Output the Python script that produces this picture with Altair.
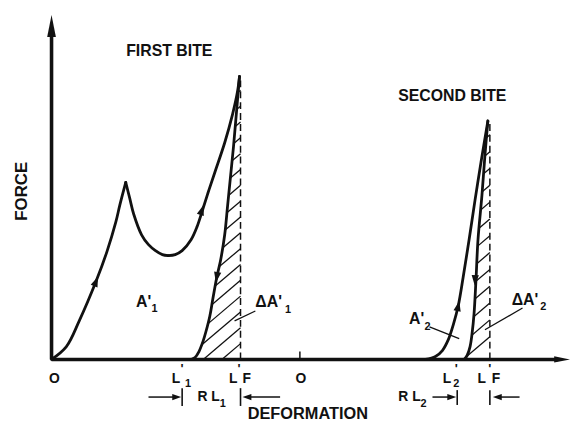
import altair as alt
import numpy as np
import pandas as pd

# ---------------- data (deformation, force) in arbitrary units ----------------
rise1_x = [0, 15, 28, 45, 56, 65, 69, 75]
rise1_y = [0, 13, 39, 79, 109, 139, 156, 179]
drop1_x = [75, 79, 83, 91, 98, 105, 112, 118]
drop1_y = [179, 163, 147, 126, 116, 110, 106, 105]
rise1b_x = [118, 125, 132, 141, 147, 152, 158, 165, 175, 183, 188, 190]
rise1b_y = [105, 106, 110, 121, 134, 149, 168, 189, 219, 248, 271, 286]
release1_x = [190, 187, 184, 181, 178, 175, 171, 167, 163, 160, 156, 153, 149, 145, 141]
release1_y = [286, 251, 216, 186, 156, 126, 101, 83, 61, 44, 28, 18, 8, 2, 0]
rise2_x = [378, 388, 395, 401, 406, 411, 416, 422, 428, 434, 441]
rise2_y = [0, 3, 9, 20, 35, 54, 83, 121, 161, 199, 241]
release2_x = [441, 438, 435, 431, 429, 427, 425, 423, 420, 417]
release2_y = [241, 206, 166, 121, 81, 46, 26, 13, 4, 0]

LF1 = 191   # final length, first bite
LF2 = 443   # final length, second bite
L1 = 132
L2 = 410
O2 = 251

hatch1_starts = list(range(16, 286, 16))
hatch2_starts = list(range(23, 241, 17))
hatch_slope = 0.85

# ---------------- scales ----------------
xs = alt.Scale(domain=[-44, 525], nice=False, zero=False)
ys = alt.Scale(domain=[-60, 353], nice=False, zero=False)
INK = "#111111"


def X(f="x"):
    return alt.X(f"{f}:Q", scale=xs, axis=None)


def Y(f="y"):
    return alt.Y(f"{f}:Q", scale=ys, axis=None)


# ---------------- curves ----------------
rows = []
for name, cx, cy in [("r1", rise1_x, rise1_y), ("d1", drop1_x, drop1_y),
                     ("r1b", rise1b_x, rise1b_y), ("rel1", release1_x, release1_y),
                     ("r2", rise2_x, rise2_y), ("rel2", release2_x, release2_y)]:
    for i, (a, b) in enumerate(zip(cx, cy)):
        rows.append({"seg": name, "i": i, "x": a, "y": b})
curves = alt.Chart(pd.DataFrame(rows)).mark_line(
    interpolate="catmull-rom", color=INK, strokeWidth=2.8, strokeCap="round", strokeJoin="round"
).encode(x=X(), y=Y(), detail="seg:N", order="i:Q")


# ---------------- hatching ----------------
def hatch_segments(cx, cy, xd, starts, slope):
    cy = np.asarray(cy, float)
    cx = np.asarray(cx, float)
    o = np.argsort(cy)
    cy, cx = cy[o], cx[o]
    out = []
    t = np.linspace(0, 80, 4001)
    for yd in starts:
        hx = xd - t
        hy = yd - slope * t
        inside = (hy >= 0) & (hx > np.interp(hy, cy, cx))
        if not inside[1]:
            continue
        k = len(t) - 1 if inside.all() else int(np.argmin(inside)) - 1
        if t[k] < 1.0:
            continue
        out.append({"x": xd, "y": yd, "x2": float(hx[k]), "y2": float(hy[k])})
    return out


hrows = hatch_segments(release1_x, release1_y, LF1, hatch1_starts, hatch_slope) + \
    hatch_segments(release2_x, release2_y, LF2, hatch2_starts, hatch_slope)
hatch = alt.Chart(pd.DataFrame(hrows)).mark_rule(color=INK, strokeWidth=1.3).encode(
    x=X(), y=Y(), x2="x2:Q", y2="y2:Q")


def rules(data, width, dash=None):
    kw = dict(color=INK, strokeWidth=width)
    if dash:
        kw["strokeDash"] = dash
    return alt.Chart(pd.DataFrame(data, columns=["x", "y", "x2", "y2"])).mark_rule(**kw).encode(
        x=X(), y=Y(), x2="x2:Q", y2="y2:Q")


axes_lines = rules([(0, 0, 512, 0), (0, 0, 0, 332)], 3.6)
dashed = rules([(LF1, 0, LF1, 286), (LF2, 0, LF2, 241)], 1.5, [7, 4])
bars = rules([(L1, -29, L1, -47), (LF1, -29, LF1, -47), (L2, -31, L2, -46), (LF2, -31, LF2, -46)], 1.6)
shafts = rules([(98, -38, 126, -38), (198, -38, 231, -38), (385, -38, 404, -38), (451, -38, 473, -38)], 1.5)
leaders = rules([(382, 33, 412, 21), (438, 30, 476, 52), (185, 39, 206, 49)], 1.3)
tick = rules([(O2, 0, O2, 8)], 1.5)


# ---------------- arrowheads ----------------
def heads(data, path):
    return alt.Chart(pd.DataFrame(data, columns=["x", "y", "angle", "size"])).mark_point(
        shape=path, filled=True, color=INK, opacity=1, strokeWidth=0
    ).encode(x=X(), y=Y(), angle=alt.Angle("angle:Q", scale=None), size=alt.Size("size:Q", scale=None))


axis_heads = heads([(0, 337, 0, 484), (516, 0, 90, 256)], "M0,-1L0.4,1L-0.4,1Z")
curve_heads = heads([(45, 79, 22, 110), (152, 151, 18, 110), (167, 83, 190, 110),
                     (411, 54, 12, 110), (428, 80, 183, 110),
                     (126.5, -38, 90, 81), (197.5, -38, 270, 81),
                     (404.5, -38, 90, 81), (450.5, -38, 270, 81)], "M0,-1L0.7,1L-0.7,1Z")


# ---------------- text ----------------
def texts(data, align, angle=None):
    kw = dict(font="Liberation Sans", fontWeight="bold", baseline="middle", align=align, color=INK)
    if angle is not None:
        kw["angle"] = angle
    return alt.Chart(pd.DataFrame(data, columns=["t", "x", "y", "fs"])).mark_text(**kw).encode(
        x=X(), y=Y(), text="t:N", size=alt.Size("fs:Q", scale=None))


center_txt = texts([
    ("FIRST BITE", 119, 312, 16), ("SECOND BITE", 405, 266, 16), ("DEFORMATION", 259, -55, 16.5),
    ("O", 3, -20, 14), ("O", O2 + 1, -20, 14),
    ("A'", 93, 58, 16), ("A'", 369, 41, 16),
    ("1", 138, -25, 11), ("2", 409, -25, 11), ("1", 173, -45, 11), ("2", 376, -45, 11),
    ("1", 104, 51, 11), ("1", 239, 50, 11), ("2", 380, 33, 11), ("2", 497, 53, 11),
    ("'", 132, -10, 13), ("'", 189.5, -10, 13), ("'", 409, -10, 13), ("'", 443, -10, 13),
], "center")
right_txt = texts([("L", 130, -20, 14), ("L", 188, -20, 14), ("L", 404, -20, 14), ("L", 439, -20, 14)], "right")
left_txt = texts([("F", 193, -20, 14), ("F", 445, -20, 14), ("R L", 147.5, -38, 14), ("R L", 350.5, -38, 14),
                  ("\u0394A'", 206, 58, 16), ("\u0394A'", 465, 60, 16)], "left")
force_txt = texts([("FORCE", -30, 170, 17)], "center", angle=270)

chart = alt.layer(
    hatch, dashed, axes_lines, curves, bars, shafts, leaders, tick,
    axis_heads, curve_heads, center_txt, right_txt, left_txt, force_txt
).properties(
    width=569, height=413, padding=0, autosize=alt.AutoSizeParams(type="none")
).configure_view(stroke=None)

chart.save("out.html", embed_options={"renderer": "svg", "actions": False})
